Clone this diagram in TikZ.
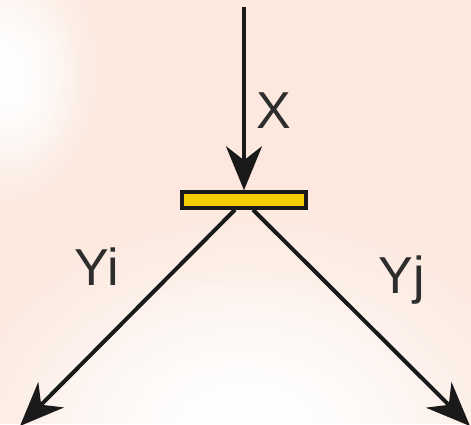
\documentclass[tikz,border=0pt]{standalone}
\usepackage{fontspec}
\setmainfont{Liberation Sans}
\usepackage{tikz}
\usetikzlibrary{arrows.meta, positioning, fadings}
\definecolor{BgPeach}{RGB}{252,232,222}
\definecolor{BarYellow}{RGB}{246,204,0}
\definecolor{LineGray}{RGB}{26,26,26}
\definecolor{TextGray}{RGB}{45,45,45}
\tikzfading[name=softglow, inner color=transparent!0, outer color=transparent!100]

\begin{document}
\begin{tikzpicture}[x=1pt, y=-1pt,
    barbox/.style={rectangle, draw=LineGray, fill=BarYellow, line width=3.5pt, minimum width=124pt, minimum height=16pt, inner sep=0pt},
    flow/.style={-{Stealth[length=44pt, width=36pt, inset=14pt]}, draw=LineGray, line width=4pt},
    lbl/.style={anchor=base, inner sep=0pt, text=TextGray, font=\fontsize{52}{54}\selectfont},
    glow/.style={white, path fading=softglow}
]
\useasboundingbox (0,0) rectangle (471,424);
\begin{scope}
\clip (0,0) rectangle (471,424);
\fill[BgPeach] (0,0) rectangle (471,424);
\fill[glow] (0,70) ellipse (110 and 150);
\fill[glow] (10,80) ellipse (70 and 100);
\fill[glow] (250,450) ellipse (330 and 260);
\fill[glow] (240,430) ellipse (230 and 170);
\end{scope}

\node[barbox] (bar) at (244,200) {};
\coordinate (xin) at (244,7);
\coordinate (yiend) at (20,426);
\coordinate (yjend) at (470,426);

\node[lbl] (x) at (274,128) {X};
\node[lbl] (yi) at (97,285) {Yi};
\node[lbl] (yj) at (402,293) {Yj};

\draw[flow] (xin) -- (bar.north);
\draw[flow] ([xshift=-9pt]bar.south) -- (yiend);
\draw[flow] ([xshift=9pt]bar.south) -- (yjend);
\end{tikzpicture}
\end{document}
